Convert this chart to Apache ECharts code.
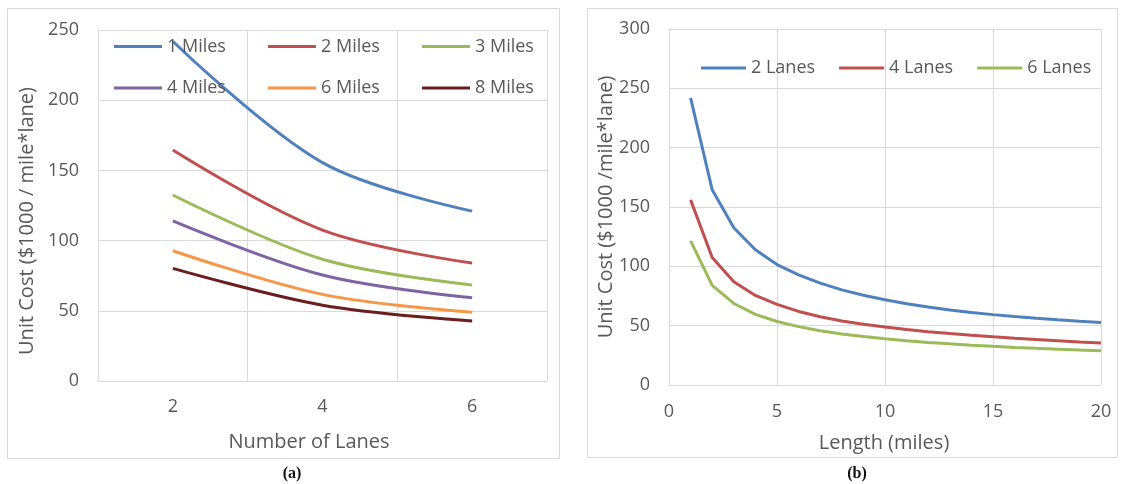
<!DOCTYPE html>
<html>
<head>
<meta charset="utf-8">
<script src="https://cdn.jsdelivr.net/npm/echarts@6/dist/echarts.min.js"></script>
<style>
  html, body { margin: 0; padding: 0; background: #ffffff; }
  #chart { width: 1123px; height: 484px; }
</style>
</head>
<body>
<div id="chart"></div>
<script>
// ---- Panel (a): unit cost vs number of lanes ----
const laneCategories = ['2', '4', '6'];
const miles1 = [242, 155.5, 121];
const miles2 = [164.5, 107.5, 84];
const miles3 = [132.5, 86.7, 68.4];
const miles4 = [114, 75.5, 59.3];
const miles6 = [92.8, 61.7, 48.9];
const miles8 = [80.2, 54, 42.7];
const seriesNamesA = ['1 Miles', '2 Miles', '3 Miles', '4 Miles', '6 Miles', '8 Miles'];

// ---- Panel (b): unit cost vs length ----
const lengthMiles = [1, 2, 3, 4, 5, 6, 7, 8, 9, 10, 11, 12, 13, 14, 15, 16, 17, 18, 19, 20];
const lanes2 = [242, 164.5, 132.5, 114, 101.5, 92.8, 85.8, 80.2, 75.6, 71.8, 68.5, 65.7, 63.2, 61.1, 59.3, 57.7, 56.2, 54.9, 53.7, 52.6];
const lanes4 = [156, 107.5, 87, 75.5, 68, 62, 57.5, 54, 51.2, 48.8, 46.7, 44.9, 43.3, 41.9, 40.6, 39.4, 38.3, 37.3, 36.3, 35.4];
const lanes6 = [121.5, 84, 68.7, 59.5, 53.5, 49.2, 45.8, 43, 40.8, 38.9, 37.3, 35.9, 34.7, 33.6, 32.6, 31.7, 30.9, 30.2, 29.5, 28.9];
const seriesNamesB = ['2 Lanes', '4 Lanes', '6 Lanes'];

// Axis titles
const yTitleA = 'Unit Cost ($1000 / mile*lane)';
const yTitleB = 'Unit Cost ($1000 /mile*lane)';
const xTitleA = 'Number of Lanes';
const xTitleB = 'Length (miles)';

const colorsA = ['#4F81BD', '#C0504D', '#9BBB59', '#8064A2', '#F79646', '#6B1E1E'];
const colorsB = ['#4F81BD', '#C0504D', '#9BBB59'];

const FONT = '"Open Sans", "Noto Sans", sans-serif';
const TXT = '#595959';
const GRID = '#d9d9d9';

const chart = echarts.init(document.getElementById('chart'), null, { renderer: 'canvas' });

const dataA = [miles1, miles2, miles3, miles4, miles6, miles8];
const dataB = [lanes2, lanes4, lanes6];

const seriesA = seriesNamesA.map((n, i) => ({
  name: n, type: 'line', xAxisIndex: 0, yAxisIndex: 0,
  data: dataA[i], smooth: 0.35, symbol: 'none',
  lineStyle: { width: 3, color: colorsA[i] }, itemStyle: { color: colorsA[i] },
  z: 3
}));
const seriesB = seriesNamesB.map((n, i) => ({
  name: n, type: 'line', xAxisIndex: 1, yAxisIndex: 1,
  data: lengthMiles.map((x, k) => [x, dataB[i][k]]), smooth: false, symbol: 'none',
  lineStyle: { width: 3, color: colorsB[i] }, itemStyle: { color: colorsB[i] },
  z: 3
}));

const legendText = { fontFamily: FONT, fontSize: 18, color: TXT, width: 62, lineHeight: 20 };

const option = {
  animation: false,
  textStyle: { fontFamily: FONT },
  grid: [
    { left: 98, top: 30, width: 449, height: 351 },
    { left: 669, top: 29, width: 432, height: 356 }
  ],
  xAxis: [
    {
      type: 'category', gridIndex: 0, data: laneCategories, boundaryGap: true,
      axisLine: { show: true, lineStyle: { color: GRID, width: 1 } },
      axisTick: { show: false },
      axisLabel: { fontFamily: FONT, fontSize: 18, color: TXT, margin: 17 },
      splitLine: { show: true, lineStyle: { color: GRID, width: 1 } }
    },
    {
      type: 'value', gridIndex: 1, min: 0, max: 20, interval: 5,
      axisLine: { show: true, lineStyle: { color: GRID, width: 1 } },
      axisTick: { show: false },
      axisLabel: { fontFamily: FONT, fontSize: 18, color: TXT, margin: 18 },
      splitLine: { show: true, lineStyle: { color: GRID, width: 1 } }
    }
  ],
  yAxis: [
    {
      type: 'value', gridIndex: 0, min: 0, max: 250, interval: 50,
      axisLine: { show: false }, axisTick: { show: false },
      axisLabel: { fontFamily: FONT, fontSize: 18, color: TXT, margin: 19 },
      splitLine: { show: true, lineStyle: { color: GRID, width: 1 } }
    },
    {
      type: 'value', gridIndex: 1, min: 0, max: 300, interval: 50,
      axisLine: { show: false }, axisTick: { show: false },
      axisLabel: { fontFamily: FONT, fontSize: 18, color: TXT, margin: 19 },
      splitLine: { show: true, lineStyle: { color: GRID, width: 1 } }
    }
  ],
  legend: [
    {
      data: seriesNamesA.slice(0, 3), left: 114, top: 36.5, padding: 0,
      orient: 'horizontal', itemWidth: 48, itemHeight: 3, itemGap: 39, icon: 'rect',
      textStyle: legendText, selectedMode: false
    },
    {
      data: seriesNamesA.slice(3, 6), left: 114, top: 78, padding: 0,
      orient: 'horizontal', itemWidth: 48, itemHeight: 3, itemGap: 39, icon: 'rect',
      textStyle: legendText, selectedMode: false
    },
    {
      data: seriesNamesB, left: 701, top: 58, padding: 0,
      orient: 'horizontal', itemWidth: 45, itemHeight: 3, itemGap: 24, icon: 'rect',
      textStyle: legendText, selectedMode: false
    }
  ],
  graphic: [
    { type: 'rect', shape: { x: 7.5, y: 8.5, width: 552, height: 450 }, style: { fill: 'none', stroke: GRID, lineWidth: 1 }, z: -10, silent: true },
    { type: 'rect', shape: { x: 587.5, y: 8.5, width: 530, height: 449 }, style: { fill: 'none', stroke: GRID, lineWidth: 1 }, z: -10, silent: true },
    { type: 'text', x: 27, y: 221, rotation: Math.PI / 2,
      style: { text: yTitleA, x: 0, y: 0, textAlign: 'center', textVerticalAlign: 'middle', font: '20px ' + FONT, fill: TXT } },
    { type: 'text', x: 606, y: 207, rotation: Math.PI / 2,
      style: { text: yTitleB, x: 0, y: 0, textAlign: 'center', textVerticalAlign: 'middle', font: '20px ' + FONT, fill: TXT } },
    { type: 'text', x: 309, y: 442,
      style: { text: xTitleA, x: 0, y: 0, textAlign: 'center', textVerticalAlign: 'middle', font: '20px ' + FONT, fill: TXT } },
    { type: 'text', x: 884, y: 443,
      style: { text: xTitleB, x: 0, y: 0, textAlign: 'center', textVerticalAlign: 'middle', font: '20px ' + FONT, fill: TXT } },
    { type: 'text', x: 292, y: 474,
      style: { text: '(a)', x: 0, y: 0, textAlign: 'center', textVerticalAlign: 'middle', font: 'bold 16px "Liberation Serif", "DejaVu Serif", serif', fill: '#111' } },
    { type: 'text', x: 857, y: 474,
      style: { text: '(b)', x: 0, y: 0, textAlign: 'center', textVerticalAlign: 'middle', font: 'bold 16px "Liberation Serif", "DejaVu Serif", serif', fill: '#111' } }
  ],
  series: seriesA.concat(seriesB)
};

chart.setOption(option);
</script>
</body>
</html>
